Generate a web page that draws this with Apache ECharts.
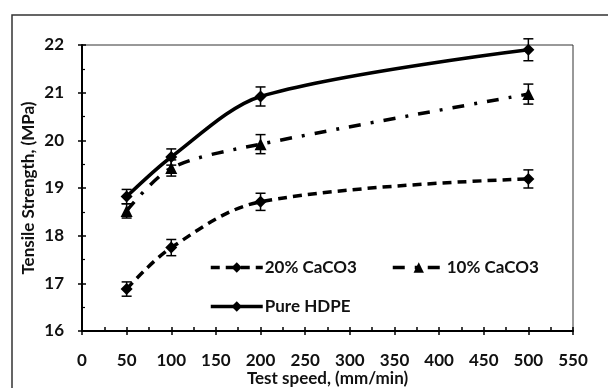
<!DOCTYPE html>
<html>
<head>
<meta charset="utf-8">
<script src="https://cdn.jsdelivr.net/npm/echarts@6/dist/echarts.min.js"></script>
<style>
  html, body { margin: 0; padding: 0; background: #fff; }
  #chart { width: 608px; height: 388px; }
</style>
</head>
<body>
<div id="chart"></div>
<script>
// test speeds (mm/min)
const speeds = [50, 100, 200, 500]
const xTicks = ['0', '50', '100', '150', '200', '250', '300', '350', '400', '450', '500', '550']

// tensile strength (MPa)
const pureHDPE = [18.82, 19.65, 20.92, 21.9]
const caco3_10 = [18.52, 19.42, 19.92, 20.97]
const caco3_20 = [16.88, 17.75, 18.71, 19.19]

// error bars (+/-)
const errPure = [0.15, 0.17, 0.2, 0.23]
const err10 = [0.15, 0.17, 0.2, 0.21]
const err20 = [0.15, 0.17, 0.18, 0.19]

const FONT = 'Lato'
const chart = echarts.init(document.getElementById('chart'))

function pts(ys) {
  return speeds.map((x, i) => [x, ys[i]])
}
function errPts(ys, errs) {
  return speeds.map((x, i) => [x, ys[i], errs[i]])
}

// error bar renderer
function renderErr(params, api) {
  const x = api.value(0)
  const y = api.value(1)
  const e = api.value(2)
  const top = api.coord([x, y + e])
  const bot = api.coord([x, y - e])
  const cap = 5
  const style = { stroke: '#000', lineWidth: 1.5 }
  return {
    type: 'group',
    children: [
      { type: 'line', shape: { x1: top[0], y1: top[1], x2: bot[0], y2: bot[1] }, style },
      { type: 'line', shape: { x1: top[0] - cap, y1: top[1], x2: top[0] + cap, y2: top[1] }, style },
      { type: 'line', shape: { x1: bot[0] - cap, y1: bot[1], x2: bot[0] + cap, y2: bot[1] }, style }
    ]
  }
}

const axisText = { color: '#111', fontFamily: FONT, fontWeight: 'bold', fontSize: 17 }
const legendText = { color: '#111', fontFamily: FONT, fontWeight: 'bold', fontSize: 17, padding: [0, 0, 0, -3] }

function legendAt(name, left, top) {
  return {
    data: [name], left, top,
    itemWidth: 52, itemHeight: 13,
    lineStyle: { width: 3.5 },
    textStyle: legendText
  }
}

const option = {
  animation: false,
  backgroundColor: '#fff',
  graphic: [
    {
      type: 'rect',
      shape: { x: 12, y: 15, width: 620, height: 400 },
      style: { fill: 'none', stroke: '#333', lineWidth: 1.5 },
      silent: true
    }
  ],
  grid: {
    left: 82, right: 35, top: 45, bottom: 57,
    outerBoundsMode: 'none', containLabel: false,
    show: true, borderColor: '#333', borderWidth: 1
  },
  legend: [
    legendAt('20% CaCO3', 204, 254),
    legendAt('10% CaCO3', 386, 254),
    legendAt('Pure HDPE', 204, 293)
  ],
  xAxis: [
    {
      type: 'value', min: 0, max: 550, interval: 50,
      name: 'Test speed, (mm/min)', nameLocation: 'middle', nameGap: 39,
      nameMoveOverlap: false,
      nameTextStyle: axisText,
      axisLine: { lineStyle: { color: '#000', width: 2 } },
      axisTick: { inside: true, length: 4, lineStyle: { color: '#000', width: 1.5 } },
      minorTick: { show: true, splitNumber: 2, length: 4, lineStyle: { color: '#000', width: 1.5 } },
      axisLabel: Object.assign({ margin: 21, formatter: (v) => xTicks[v / 50] }, axisText),
      splitLine: { show: false }
    },
    {
      type: 'value', min: 0, max: 550, interval: 50, position: 'bottom',
      axisLine: { show: false },
      axisTick: { inside: false, length: 4, lineStyle: { color: '#000', width: 1.5 } },
      axisLabel: { show: false },
      splitLine: { show: false }
    }
  ],
  yAxis: [
    {
      type: 'value', min: 16, max: 22, interval: 1,
      name: 'Tensile Strength, (MPa)', nameLocation: 'middle', nameGap: 45,
      nameMoveOverlap: false,
      nameTextStyle: axisText,
      axisLine: { lineStyle: { color: '#000', width: 2 } },
      axisTick: { inside: true, length: 4, lineStyle: { color: '#000', width: 1.5 } },
      minorTick: { show: true, splitNumber: 2, length: 3, lineStyle: { color: '#000', width: 1.2 } },
      axisLabel: Object.assign({ margin: 18 }, axisText),
      splitLine: { show: false }
    },
    {
      type: 'value', min: 16, max: 22, interval: 1, position: 'left',
      axisLine: { show: false },
      axisTick: { inside: false, length: 4, lineStyle: { color: '#000', width: 1.5 } },
      axisLabel: { show: false },
      splitLine: { show: false }
    }
  ],
  series: [
    {
      name: '20% CaCO3', type: 'line', data: pts(caco3_20),
      smooth: 0.35, symbol: 'diamond', symbolSize: 12,
      itemStyle: { color: '#000' },
      lineStyle: { color: '#000', width: 3.5, type: [9, 6] }
    },
    {
      name: '10% CaCO3', type: 'line', data: pts(caco3_10),
      smooth: 0.3, symbol: 'triangle', symbolSize: 12,
      itemStyle: { color: '#000' },
      lineStyle: { color: '#000', width: 3.5, type: [12, 10, 3, 10] }
    },
    {
      name: 'Pure HDPE', type: 'line', data: pts(pureHDPE),
      smooth: 0.3, symbol: 'diamond', symbolSize: 12,
      itemStyle: { color: '#000' },
      lineStyle: { color: '#000', width: 3.5 }
    },
    { type: 'custom', renderItem: renderErr, data: errPts(caco3_20, err20), z: 3 },
    { type: 'custom', renderItem: renderErr, data: errPts(caco3_10, err10), z: 3 },
    { type: 'custom', renderItem: renderErr, data: errPts(pureHDPE, errPure), z: 3 }
  ]
}

chart.setOption(option)
</script>
</body>
</html>
